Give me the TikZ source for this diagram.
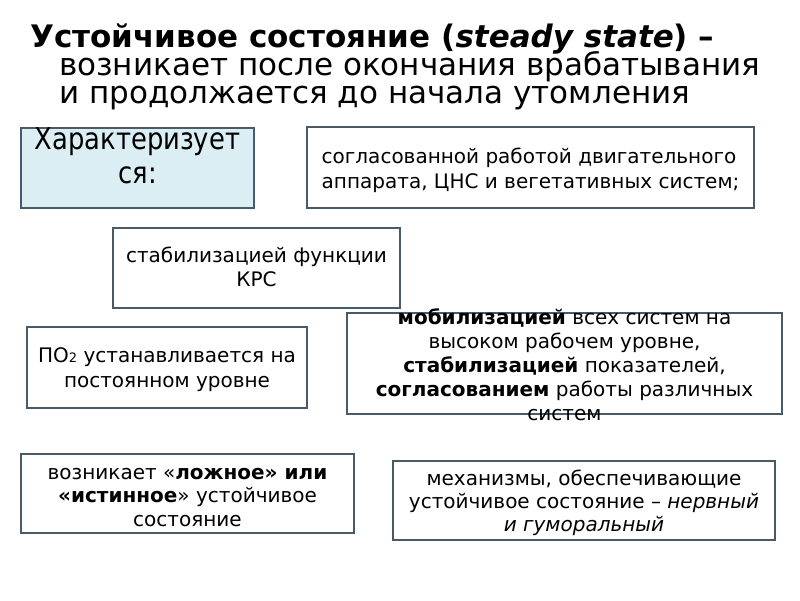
\documentclass[tikz,border=0pt]{standalone}
\usepackage{fontspec}
\setmainfont{DejaVu Sans}
\usetikzlibrary{positioning}
\definecolor{edgegray}{HTML}{4A5A66}
\definecolor{paleblue}{HTML}{DAEEF3}

\begin{document}
\begin{tikzpicture}[x=1pt,y=-1pt,
  box/.style={draw=edgegray,line width=2pt,fill=white,inner sep=0pt},
  txt/.style={inner sep=0pt,align=center,font=\fontsize{20}{24.5}\selectfont}]
\useasboundingbox (0,0) rectangle (800,600);
% title
\node[anchor=base west,inner sep=0pt,font=\fontsize{31}{28}\selectfont\bfseries] (title) at (30,47) {Устойчивое состояние (\itshape steady state\upshape) –};
\node[anchor=base west,inner sep=0pt,font=\fontsize{31}{28}\selectfont] (sub) at (59,75) {возникает после окончания врабатывания};
\node[anchor=base west,inner sep=0pt,font=\fontsize{31}{28}\selectfont] (sub2) at (59,103) {и продолжается до начала утомления};
% boxes
\node[box,fill=paleblue,minimum width=233pt,minimum height=80pt] (chr) at (137.5,168) {};
\node[box,minimum width=447pt,minimum height=81pt] (coord) at (530.5,167.5) {};
\node[box,minimum width=287pt,minimum height=80pt] (stab) at (256.5,268) {};
\node[box,minimum width=280pt,minimum height=81pt] (po2) at (167,367.5) {};
\node[box,minimum width=435pt,minimum height=101pt] (mob) at (564.5,363.5) {};
\node[box,minimum width=333pt,minimum height=79pt] (lozh) at (187.5,493.5) {};
\node[box,minimum width=382pt,minimum height=79pt] (mech) at (584,500.5) {};
% texts
\node[txt,font=\fontsize{30}{34}\selectfont\addfontfeature{FakeStretch=0.86}] (chrt) at ([yshift=12pt]chr.center) {Характеризует\\ся:};
\node[txt,align=left] (coordt) at ([yshift=-3pt]coord.center) {согласованной работой двигательного\\аппарата, ЦНС и вегетативных систем;};
\node[txt] (stabt) at ([yshift=1pt]stab.center) {стабилизацией функции\\КРС};
\node[txt] (po2t) at ([yshift=-2pt]po2.center) {ПО{\fontsize{13}{13}\selectfont 2} устанавливается на\\постоянном уровне};
\node[txt,font=\fontsize{20}{24}\selectfont] (mobt) at ([yshift=-1pt]mob.center) {\textbf{мобилизацией} всех систем на\\высоком рабочем уровне,\\\textbf{стабилизацией} показателей,\\\textbf{согласованием} работы различных\\систем};
\node[txt,font=\fontsize{20}{23.5}\selectfont] (lozht) at ([yshift=-4pt]lozh.center) {возникает «\textbf{ложное» или}\\\textbf{«истинное}» устойчивое\\состояние};
\node[txt,font=\fontsize{20}{23}\selectfont] (mecht) at ([yshift=-2pt]mech.center) {механизмы, обеспечивающие\\устойчивое состояние – \textit{нервный}\\\textit{и гуморальный}};
\end{tikzpicture}
\end{document}
